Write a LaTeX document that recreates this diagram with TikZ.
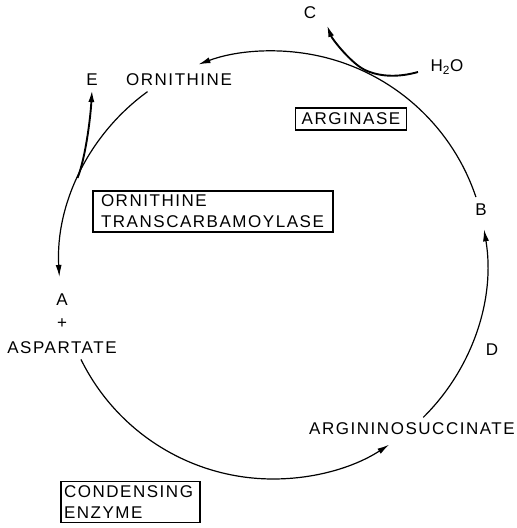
\documentclass[tikz,border=0pt]{standalone}
\usepackage{fontspec}
\setmainfont{Liberation Sans}[LetterSpace=9]
\usetikzlibrary{arrows.meta}
\begin{document}
\begin{tikzpicture}[x=1pt,y=1pt,
  lbl/.style={font=\fontsize{17}{21}\selectfont, inner sep=0pt},
  enz/.style={draw, line width=1.2pt, font=\fontsize{17}{21}\selectfont, align=left},
  cyc/.style={line width=1.2pt},
  br/.style={line width=1.9pt},
  tip/.style={-{Latex[length=12pt,width=6pt]}}]
\useasboundingbox (0,0) rectangle (517,528);
\coordinate (O) at (273,263);
% labels
\node[lbl] (orn) at (179,448) {ORNITHINE};
\node[lbl] (E) at (92,448) {E};
\node[lbl] (C) at (310,515) {C};
\node[lbl] (h2o) at (447,461) {H\textsubscript{2}O};
\node[lbl] (B) at (481,318) {B};
\node[lbl] (A) at (62,228) {A};
\node[lbl] (plus) at (62,204) {+};
\node[lbl] (asp) at (62,180) {ASPARTATE};
\node[lbl] (D) at (492,178) {D};
\node[lbl] (arg) at (412,99) {ARGININOSUCCINATE};
% enzyme boxes
\node[enz, inner xsep=6pt, inner ysep=5pt] (arginase) at (351,409) {ARGINASE};
\node[enz, text width=224pt, inner xsep=8pt, inner ysep=4pt] (otc) at (213,316.5) {ORNITHINE\\TRANSCARBAMOYLASE};
\node[enz, text width=133pt, inner xsep=3pt, inner ysep=4pt] (cond) at (130.5,26) {CONDENSING\\ENZYME};
% cycle arcs
\coordinate (s1) at ([shift={(O)}]-45.4:214);
\coordinate (s2) at ([shift={(O)}]18.5:214);
\coordinate (s3) at ([shift={(O)}]125.9:214);
\coordinate (s4) at ([shift={(O)}]206.2:214);
\draw[cyc,tip] (s1) arc[start angle=-45.4, end angle=9.6, radius=214];
\draw[cyc,tip] (s2) arc[start angle=18.5, end angle=110.4, radius=214];
\draw[cyc,tip] (s3) arc[start angle=125.9, end angle=183.2, radius=214];
\draw[cyc,tip] (s4) arc[start angle=206.2, end angle=302.9, radius=214];
% side branches
\coordinate (eS) at ([shift={(O)}]156:214);
\coordinate (eT) at (92,438);
\draw[br,tip] (eS) .. controls (85.5,370) and (90.5,410) .. (eT);
\coordinate (hS) at (418,456);
\coordinate (hM) at (365,458);
\coordinate (cT) at (327,503);
\draw[br,tip] (hS) .. controls (400.7,451.1) and (381.3,450.3) .. (hM)
  .. controls (351.4,464.4) and (332.1,488.9) .. (cT);
\end{tikzpicture}
\end{document}
